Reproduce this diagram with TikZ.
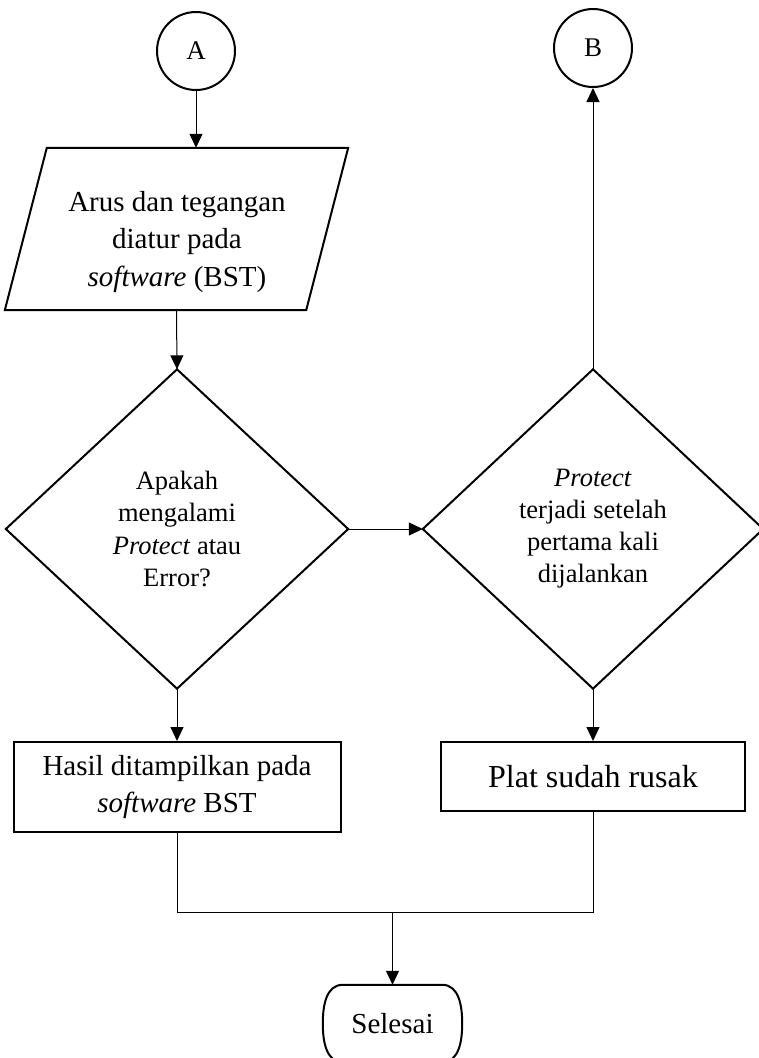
\documentclass[tikz,border=0pt]{standalone}
\usepackage{fontspec}
\setmainfont{Liberation Serif}
\usetikzlibrary{arrows.meta,calc}
\begin{document}
\begin{tikzpicture}[x=1pt,y=-1pt,
  shapeline/.style={line width=2pt},
  conn/.style={line width=1pt,-{Triangle[length=14pt,width=13pt]}},
  plain/.style={line width=1pt},
  circ/.style={circle,draw,shapeline,minimum size=78pt,inner sep=0pt,font=\fontsize{27}{30}\selectfont},
  boxnode/.style={draw,shapeline,align=center,inner sep=0pt},
  frame/.style={inner sep=0pt,align=center}
]
\useasboundingbox (0,0) rectangle (759,1058);
\clip (0,0) rectangle (759,1058);

% circles
\node[circ] (A) at (196,51) {A};
\node[circ] (B) at (593,48) {B};

% parallelogram
\node[frame,minimum width=301pt,minimum height=162pt] (para) at (176.5,229) {};
\draw[shapeline] ($(para.north west)+(21,0)$) -- ($(para.north east)+(21,0)$) -- ($(para.south east)+(-21,0)$) -- ($(para.south west)+(-21,0)$) -- cycle;
\node[frame,font=\fontsize{29}{37.7}\selectfont] (paratxt) at (177,242) {Arus dan tegangan\\diatur pada\\\textit{software} (BST)};

% diamonds
\node[frame,minimum width=342pt,minimum height=319pt,font=\fontsize{26.5}{32.5}\selectfont] (d1) at (177,529) {Apakah\\mengalami\\\textit{Protect} atau\\Error?};
\draw[shapeline] (d1.north) -- (d1.east) -- (d1.south) -- (d1.west) -- cycle;
\node[frame,minimum width=340pt,minimum height=319pt,font=\fontsize{26.5}{32}\selectfont] (d2) at (593,529) {\textit{Protect}\\terjadi setelah\\pertama kali\\dijalankan};
\draw[shapeline] (d2.north) -- (d2.east) -- (d2.south) -- (d2.west) -- cycle;

% boxes
\node[boxnode,minimum width=327pt,minimum height=90pt,font=\fontsize{29}{37}\selectfont] (r1) at (177,787) {Hasil ditampilkan pada\\\textit{software} BST};
\node[boxnode,minimum width=304pt,minimum height=69pt,font=\fontsize{32}{38}\selectfont] (r2) at (593,776.5) {Plat sudah rusak};

% terminator
\node[frame,minimum width=139pt,minimum height=77pt,font=\fontsize{29}{34}\selectfont] (sel) at (392.5,1023.5) {Selesai};
\draw[shapeline] ($(sel.north west)+(20,0)$) -- ($(sel.north east)+(-20,0)$) to[out=0,in=90] (sel.east) to[out=-90,in=0] ($(sel.south east)+(-20,0)$) -- ($(sel.south west)+(20,0)$) to[out=180,in=-90] (sel.west) to[out=90,in=180] ($(sel.north west)+(20,0)$) -- cycle;

% connectors
\draw[conn] (A.south) -- (A.south |- para.north);
\draw[conn] (para.south) -- (d1.north);
\draw[conn] (d1.east) -- (d2.west);
\draw[conn] (d2.north) -- (B.south);
\draw[conn] (d1.south) -- (r1.north);
\draw[conn] (d2.south) -- (r2.north);
\coordinate (mC) at (393,912);
\draw[plain] (r1.south) -- (r1.south |- mC) -- (r2.south |- mC) -- (r2.south);
\draw[conn] (sel.north |- mC) -- (sel.north);
\end{tikzpicture}
\end{document}
